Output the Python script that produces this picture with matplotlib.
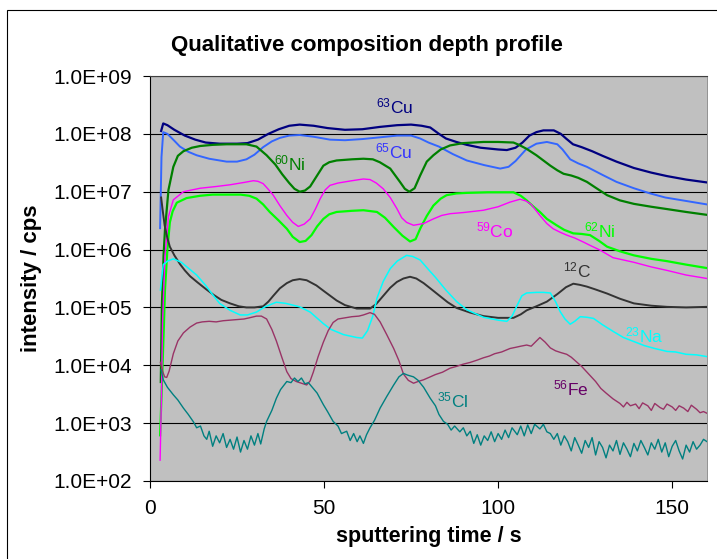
import matplotlib
matplotlib.use("Agg")
import matplotlib.pyplot as plt
from matplotlib.patches import Rectangle
from matplotlib.ticker import FixedLocator, FuncFormatter
import numpy as np

plt.rcParams['font.family'] = ['Liberation Sans', 'DejaVu Sans']
plt.rcParams['mathtext.fontset'] = 'custom'
plt.rcParams['mathtext.rm'] = 'Liberation Sans'
plt.rcParams['mathtext.it'] = 'Liberation Sans:italic'
plt.rcParams['mathtext.bf'] = 'Liberation Sans:bold'

# sputtering time (s) and log10(intensity / cps)
cu63_t = [3.2, 3.8, 5, 7, 10, 13, 16, 20, 25, 28, 31, 34, 37, 40, 43, 47, 51, 56, 61, 66, 71, 75, 78,
          80.5, 83, 85, 88, 91, 95, 100, 102.5, 105, 107, 109, 111, 113, 116, 118, 119.5, 121.5, 124,
          127, 130, 134, 139, 144, 148.5, 154, 160]
cu63_log = [8.05, 8.18, 8.15, 8.07, 7.97, 7.90, 7.85, 7.83, 7.83, 7.84, 7.90, 8.00, 8.08, 8.14, 8.16,
            8.14, 8.10, 8.07, 8.08, 8.12, 8.15, 8.16, 8.14, 8.11, 8.00, 7.92, 7.86, 7.81, 7.76, 7.73,
            7.72, 7.76, 7.85, 7.97, 8.03, 8.06, 8.06, 8.00, 7.92, 7.82, 7.77, 7.70, 7.62, 7.52, 7.41,
            7.33, 7.27, 7.21, 7.16]

cu65_t = [2.9, 3.3, 3.8, 5, 7, 8.6, 11, 13.4, 17, 22, 25, 27.7, 30, 32.5, 35, 37.3, 40, 43, 47, 51.7,
          56, 61, 66, 71, 75, 77.6, 80, 83, 87, 91, 96, 100.6, 103, 105, 108, 111, 114, 117, 118.5,
          120.7, 123, 125.5, 130, 134, 139, 143.7, 148, 154, 160]
cu65_log = [6.37, 7.60, 8.03, 8.00, 7.88, 7.78, 7.69, 7.63, 7.57, 7.52, 7.52, 7.56, 7.64, 7.77, 7.87,
            7.93, 7.97, 7.98, 7.95, 7.90, 7.89, 7.91, 7.94, 7.97, 7.97, 7.92, 7.85, 7.78, 7.65, 7.54,
            7.46, 7.40, 7.43, 7.53, 7.73, 7.83, 7.86, 7.82, 7.73, 7.56, 7.49, 7.43, 7.29, 7.17, 7.06,
            6.97, 6.90, 6.84, 6.78]

ni60_t = [3.1, 3.4, 3.9, 4.3, 5.3, 6.7, 8, 9.6, 12, 14.4, 18, 22, 27.7, 30.6, 33.5, 36, 38, 40, 41.5,
          43, 44.5, 46, 48, 49.8, 51.5, 53.6, 58, 61.3, 64, 66, 69, 71.8, 73.2, 74.5, 76, 77.6, 79.5,
          81.4, 83.5, 86.2, 90, 95.8, 100, 104.4, 106, 108.2, 111, 113, 115, 117, 118.8, 121, 123,
          125.5, 128, 131.3, 135, 139, 144, 148.5, 154, 160]
ni60_log = [3.71, 5.00, 5.90, 6.34, 7.03, 7.43, 7.62, 7.70, 7.76, 7.79, 7.81, 7.82, 7.82, 7.78, 7.63,
            7.47, 7.30, 7.15, 7.05, 7.00, 7.02, 7.09, 7.28, 7.45, 7.51, 7.54, 7.56, 7.57, 7.56, 7.51,
            7.40, 7.17, 7.05, 7.00, 7.06, 7.28, 7.52, 7.63, 7.73, 7.80, 7.84, 7.86, 7.86, 7.85, 7.81,
            7.74, 7.63, 7.54, 7.45, 7.37, 7.31, 7.28, 7.24, 7.17, 7.07, 6.94, 6.85, 6.79, 6.74, 6.70,
            6.65, 6.60]

ni62_t = [2.9, 3.5, 4.0, 4.3, 5.0, 5.7, 6.5, 7.7, 10.5, 14.4, 18, 26, 28.5, 30.6, 32.5, 34.4, 37,
          39.3, 41, 43, 44.7, 46.4, 48, 49.8, 51.5, 53.6, 58, 61.3, 65.2, 67.5, 70, 72.5, 74.7, 76.3,
          77.6, 79.5, 81.4, 83.5, 85.2, 88, 91, 97, 104.4, 106.5, 108.2, 110, 112, 114, 116.8, 119,
          121.6, 124, 126.4, 129, 131.3, 135, 139, 144, 148.5, 154, 160]
ni62_log = [2.79, 3.80, 4.70, 5.30, 6.00, 6.47, 6.66, 6.81, 6.89, 6.93, 6.95, 6.95, 6.93, 6.88, 6.78,
            6.65, 6.50, 6.36, 6.22, 6.13, 6.15, 6.25, 6.40, 6.53, 6.61, 6.65, 6.67, 6.68, 6.65, 6.55,
            6.39, 6.24, 6.14, 6.18, 6.36, 6.58, 6.76, 6.88, 6.94, 6.97, 6.98, 6.99, 6.99, 6.93, 6.85,
            6.75, 6.65, 6.53, 6.42, 6.34, 6.28, 6.27, 6.25, 6.15, 6.05, 5.97, 5.90, 5.84, 5.80, 5.74,
            5.68]

co59_t = [2.9, 3.3, 3.6, 4.3, 5.3, 6.7, 9.6, 14.4, 19, 23, 27, 29.7, 31, 32.5, 34, 35.4, 37.3, 39.3,
          41, 42.6, 44.3, 46, 47.5, 48.9, 50.3, 51.7, 54, 58, 61.3, 63.2, 65, 67, 69, 70.9, 72.3, 73.7,
          75.7, 78.6, 81.4, 83.8, 86.2, 90, 95.8, 100, 103.4, 106.3, 108, 109.5, 112, 114, 115.8,
          117.8, 119.7, 122, 124.5, 126.5, 129.3, 133, 139, 144, 148.5, 154, 160]
co59_log = [2.36, 3.50, 4.73, 5.88, 6.57, 6.86, 7.00, 7.06, 7.09, 7.12, 7.16, 7.19, 7.18, 7.14, 7.04,
            6.94, 6.76, 6.59, 6.47, 6.40, 6.44, 6.53, 6.70, 6.88, 7.03, 7.11, 7.15, 7.19, 7.22, 7.21,
            7.15, 7.05, 6.90, 6.71, 6.55, 6.47, 6.42, 6.45, 6.53, 6.59, 6.62, 6.64, 6.68, 6.74, 6.82,
            6.87, 6.84, 6.78, 6.59, 6.45, 6.36, 6.30, 6.25, 6.20, 6.13, 6.07, 5.99, 5.86, 5.78, 5.70,
            5.64, 5.56, 5.50]

c12_t = [3.2, 3.6, 4.2, 5, 5.7, 7, 8.6, 10, 11.5, 13.5, 16, 18.2, 20.5, 23, 25.5, 27.7, 30, 32.5, 34,
         35.4, 37.3, 39.3, 41, 43, 45, 47.8, 50, 53.6, 56, 59.4, 63.2, 65, 67, 69, 70.9, 72.8, 74.7,
         76.5, 78.6, 80.5, 83, 85.5, 88.1, 92, 95.8, 100, 104.4, 106.5, 108.2, 111, 114, 117, 119.5,
         121.6, 123.5, 125.5, 128, 131.3, 135, 139, 144, 148.5, 154, 160]
c12_log = [6.90, 6.70, 6.42, 6.20, 6.05, 5.90, 5.75, 5.64, 5.54, 5.44, 5.32, 5.22, 5.13, 5.07, 5.02,
           5.00, 5.00, 5.02, 5.10, 5.20, 5.33, 5.42, 5.47, 5.49, 5.47, 5.38, 5.28, 5.12, 5.04, 4.98,
           4.98, 5.06, 5.20, 5.34, 5.44, 5.50, 5.53, 5.50, 5.42, 5.33, 5.21, 5.09, 4.99, 4.91, 4.85,
           4.82, 4.82, 4.88, 4.95, 5.02, 5.10, 5.23, 5.35, 5.41, 5.39, 5.36, 5.31, 5.24, 5.15, 5.07,
           5.03, 5.01, 5.00, 5.01]

na23_t = [3.0, 3.8, 5, 6.7, 9, 11, 13.4, 16, 18, 20, 23, 25.9, 28, 30.6, 33, 36.3, 39, 43, 46, 49.8,
          52, 55.6, 59.4, 61, 62.5, 64, 65.2, 67, 69, 71, 73.7, 75.5, 77.6, 80.5, 82, 85, 88.1, 91,
          95.8, 100, 102.5, 104, 105.5, 106.8, 108.2, 111, 113, 115, 116.5, 117.8, 119.2, 120.7, 122,
          123.6, 125.5, 127.4, 130, 133.2, 136, 139, 142, 145, 148.5, 151, 154, 157, 160]
na23_log = [5.30, 5.74, 5.80, 5.84, 5.78, 5.68, 5.56, 5.38, 5.22, 5.07, 4.95, 4.87, 4.87, 4.92, 5.01,
            5.09, 5.07, 5.01, 4.92, 4.72, 4.62, 4.53, 4.48, 4.47, 4.60, 4.85, 5.16, 5.45, 5.67, 5.80,
            5.90, 5.88, 5.82, 5.62, 5.52, 5.30, 5.10, 4.96, 4.83, 4.78, 4.76, 4.85, 5.04, 5.20, 5.25,
            5.26, 5.26, 5.25, 5.10, 4.93, 4.80, 4.71, 4.76, 4.84, 4.83, 4.81, 4.70, 4.58, 4.48, 4.41,
            4.34, 4.29, 4.24, 4.23, 4.19, 4.18, 4.15]

fe56_t = [3.0, 3.6, 4.2, 4.8, 5.5, 6.7, 8, 9.6, 11.5, 13.4, 15, 17, 19, 21, 23, 25, 27, 28.5, 30.6, 32,
          33.5, 35, 36.3, 37.8, 39.3, 40.5, 42, 43.5, 45, 46, 46.9, 48.3, 49.8, 51.2, 52.6, 54, 56, 58,
          60, 61.3, 63.2, 64.5, 66.1, 68, 70, 71.5, 72.8, 74.2, 75.7, 77, 78.6, 80.5, 82, 84, 86.2, 88,
          90, 92, 94, 95.8, 97.5, 99, 101, 103.4, 105, 106.5, 108.2, 109.5, 111, 112, 113.5, 115,
          116.5, 118, 119.7, 121, 122.5, 124, 126, 128, 129.5, 131, 133, 135, 136, 137, 138, 139.5,
          140.5, 141.5, 143, 144, 145, 146.5, 147.5, 148.5, 150, 151, 152, 153.3, 154.5, 155.5, 157,
          158, 159, 160]
fe56_log = [4.05, 3.90, 3.80, 3.79, 3.90, 4.20, 4.42, 4.56, 4.66, 4.73, 4.75, 4.76, 4.75, 4.77, 4.78,
            4.79, 4.80, 4.82, 4.85, 4.85, 4.80, 4.62, 4.42, 4.15, 3.89, 3.77, 3.72, 3.69, 3.66, 3.73,
            3.88, 4.15, 4.40, 4.60, 4.74, 4.80, 4.82, 4.84, 4.85, 4.87, 4.91, 4.88, 4.75, 4.53, 4.29,
            4.08, 3.85, 3.74, 3.69, 3.72, 3.75, 3.80, 3.84, 3.88, 3.95, 3.98, 4.02, 4.05, 4.09, 4.13,
            4.16, 4.20, 4.23, 4.29, 4.31, 4.33, 4.35, 4.33, 4.42, 4.48, 4.40, 4.30, 4.25, 4.22, 4.19,
            4.14, 4.06, 3.98, 3.85, 3.72, 3.60, 3.52, 3.42, 3.34, 3.28, 3.36, 3.30, 3.33, 3.25, 3.35,
            3.30, 3.22, 3.34, 3.27, 3.24, 3.33, 3.28, 3.22, 3.30, 3.26, 3.20, 3.31, 3.24, 3.18, 3.20,
            3.17]

cl35_t = [3.2, 3.8, 5, 6.7, 8, 9.6, 11, 12.5, 13.4, 14.5, 15.5, 16.3, 17, 18, 19, 20, 21, 22, 23, 24,
          25, 26, 27, 28, 29, 30, 31, 31.8, 32.8, 33.5, 35, 36.3, 37.5, 39.3, 40.5, 41.5, 42.5, 43.5,
          44.5, 45.5, 46.9, 48, 49.8, 51, 52.6, 54, 55, 56.5, 57.5, 58.5, 59.5, 60.3, 61.3, 62.2, 63.2,
          64.5, 66.1, 68, 70, 71.5, 72.8, 74, 75.7, 77, 78.6, 80.5, 82, 83, 84.3, 85.5, 86.5, 87.5, 89,
          90, 91, 92, 93, 94, 95, 96, 97, 98, 99, 100, 101, 102, 103, 104, 105.5, 106.5, 107.5, 108.5,
          109.5, 110.5, 112, 113, 114, 115, 116, 117, 118, 119, 120, 121, 122, 123, 124, 125, 126, 127,
          128, 129, 130, 131, 132, 133, 134, 135, 136, 137, 138, 139, 140, 141, 142, 143, 144, 145,
          146, 147, 148, 149, 150, 151, 152, 153, 154, 155, 156, 157, 158, 159, 160]
cl35_log = [3.92, 3.75, 3.62, 3.49, 3.40, 3.26, 3.15, 3.02, 2.92, 2.95, 2.78, 2.72, 2.86, 2.60, 2.78,
            2.66, 2.82, 2.58, 2.72, 2.55, 2.76, 2.50, 2.70, 2.55, 2.78, 2.62, 2.82, 2.64, 2.90, 3.03,
            3.22, 3.43, 3.58, 3.72, 3.70, 3.78, 3.72, 3.78, 3.68, 3.70, 3.60, 3.52, 3.32, 3.20, 3.03,
            2.95, 2.82, 2.86, 2.70, 2.82, 2.68, 2.78, 2.65, 2.80, 2.92, 3.05, 3.26, 3.46, 3.66, 3.80,
            3.86, 3.83, 3.80, 3.74, 3.62, 3.43, 3.30, 3.15, 3.03, 2.98, 2.88, 2.95, 2.85, 2.92, 2.78,
            2.86, 2.65, 2.80, 2.62, 2.78, 2.70, 2.85, 2.68, 2.82, 2.72, 2.88, 2.75, 2.92, 2.80, 2.95,
            2.78, 2.97, 2.82, 2.98, 2.90, 2.98, 2.85, 2.82, 2.72, 2.82, 2.62, 2.78, 2.68, 2.52, 2.75,
            2.62, 2.48, 2.70, 2.58, 2.75, 2.45, 2.68, 2.58, 2.40, 2.62, 2.52, 2.70, 2.46, 2.66, 2.55,
            2.42, 2.65, 2.52, 2.70, 2.58, 2.45, 2.66, 2.55, 2.72, 2.50, 2.66, 2.42, 2.60, 2.70, 2.52,
            2.38, 2.62, 2.50, 2.68, 2.55, 2.62, 2.72, 2.68]

series = [
    (cu63_t, cu63_log, '#000080', 1.6),
    (cu65_t, cu65_log, '#3366FF', 1.4),
    (ni60_t, ni60_log, '#008000', 1.6),
    (ni62_t, ni62_log, '#00FF00', 1.6),
    (co59_t, co59_log, '#FF00FF', 1.0),
    (c12_t, c12_log, '#333333', 1.4),
    (na23_t, na23_log, '#00FFFF', 1.1),
    (fe56_t, fe56_log, '#993366', 1.0),
    (cl35_t, cl35_log, '#008080', 1.0),
]

# isotope labels: mass number, element, time, log10 intensity, colour
labels = [
    ('63', 'Cu', 70.4, 8.48, '#000080'),
    ('65', 'Cu', 70.0, 7.70, '#3333FF'),
    ('60', 'Ni', 40.2, 7.48, '#008000'),
    ('59', 'Co', 99.0, 6.33, '#FF00FF'),
    ('62', 'Ni', 129.3, 6.33, '#00FF00'),
    ('12', 'C', 122.6, 5.64, '#333333'),
    ('23', 'Na', 142.0, 4.52, '#00FFFF'),
    ('56', 'Fe', 121.0, 3.60, '#660066'),
    ('35', 'Cl', 87.0, 3.40, '#008080'),
]

fig = plt.figure(figsize=(7.17, 5.59), dpi=100)
ax = fig.add_axes([150 / 717, 1 - 481 / 559, 557 / 717, 405 / 559])
ax.set_facecolor('#C0C0C0')

for t, v, col, lw in series:
    ax.plot(t, 10 ** np.array(v), color=col, lw=lw)

for iso, el, t, v, col in labels:
    ax.text(t, 10 ** v, r'$^{\mathrm{%s}}$%s' % (iso, el), color=col, fontsize=12.5,
            ha='center', va='center')

ax.set_yscale('log')
ax.set_ylim(1e2, 1e9)
ax.set_xlim(0, 160)
ax.yaxis.set_major_locator(FixedLocator([10.0 ** k for k in range(2, 10)]))
ax.yaxis.set_minor_locator(FixedLocator([]))
ax.yaxis.set_major_formatter(FuncFormatter(lambda y, p: '%.1E' % y))
ax.set_xticks([0, 50, 100, 150])
ax.grid(True, axis='y', color='black', lw=0.8)
ax.set_axisbelow(True)

ax.spines['right'].set_color('#808080')
ax.spines['right'].set_linewidth(0.6)
ax.spines['top'].set_color('#404040')
ax.spines['top'].set_linewidth(0.8)
ax.spines['left'].set_linewidth(0.8)
ax.spines['bottom'].set_linewidth(0.8)
ax.tick_params(axis='both', direction='out', length=5, width=0.8, labelsize=15, pad=8)

ax.set_xlabel('sputtering time / s', fontsize=15.5, fontweight='bold', labelpad=6)
ax.set_ylabel('intensity / cps', fontsize=16, fontweight='bold', labelpad=8)
fig.text(0.512, 0.918, 'Qualitative composition depth profile', fontsize=16,
         fontweight='bold', ha='center', va='center')

fig.add_artist(Rectangle((7 / 717, -0.05), 1.2, 1.05 - 10 / 559, transform=fig.transFigure,
                         fill=False, ec='black', lw=0.8))

fig.savefig('out.png', dpi=100)
